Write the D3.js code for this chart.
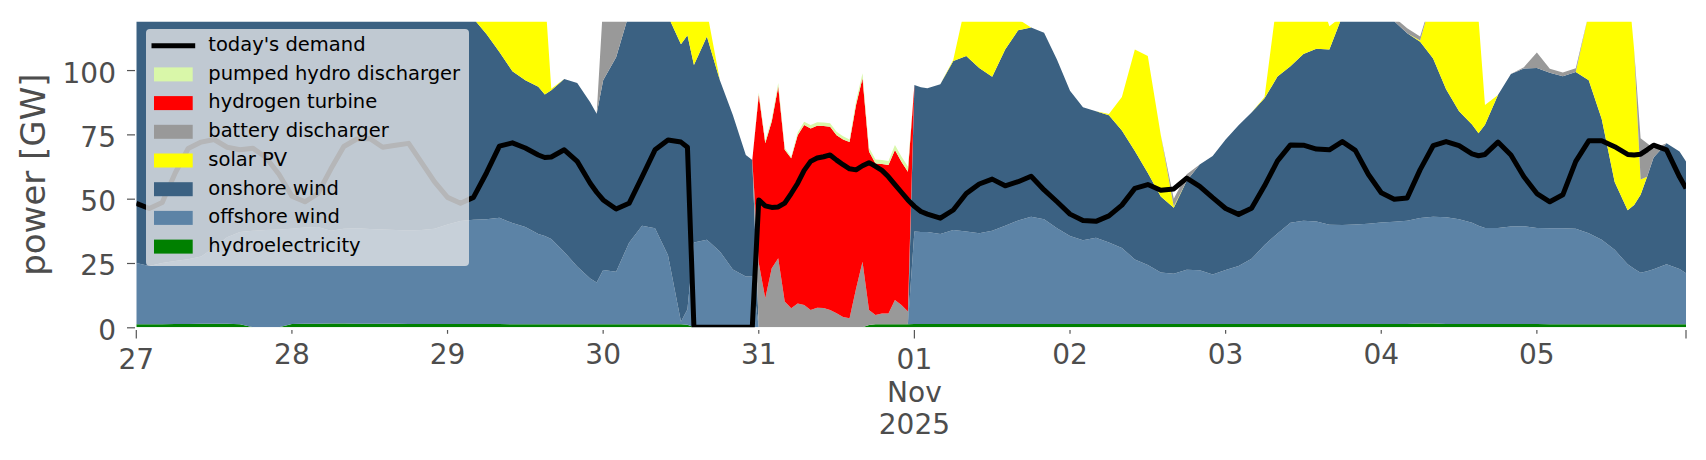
<!DOCTYPE html>
<html><head><meta charset="utf-8">
<script src="https://cdn.jsdelivr.net/npm/d3@7"></script>
<style>
body{margin:0;background:#fff}
svg{display:block}
text{font-family:"DejaVu Sans",sans-serif}
</style>
</head><body>
<svg id="chart" width="1706" height="460"></svg>
<script>
// ---------- DATA (hour offsets from 27 Oct 2025 00:00) ----------
const hours = [
 0,2,4,6,8,10,12,14,16,18,20,22,
 24,26,28,30,32,34,36,38,40,42,44,46,
 48,50,52,54,56,58,60,62,63,64,66,68,70,71,
 72,74,76,78,80,82,84,85,86,88,90,92,94,95,
 96,97,98,99,100,101,102,103,104,105,106,107,108,109,110,111,112,113,114,115,116,117,118,119,120,121,
 122,124,126,128,130,132,134,136,138,140,142,
 144,146,148,150,152,154,156,158,160,162,164,166,
 168,170,172,174,176,178,180,182,184,186,188,190,
 192,194,196,198,200,202,204,206,207,208,210,212,214,
 216,218,220,222,224,226,228,230,231,232,233,234,236,238,239];

const hydroelectricity = [
 1.2,1.2,1.2,1.3,1.3,1.4,1.4,1.4,1.2,0,0,0,
 1.3,1.4,1.4,1.5,1.5,1.4,1.4,1.4,1.4,1.3,1.3,1.3,
 1.3,1.3,1.3,1.3,1.3,1.2,1.2,1.2,1.2,1.2,1.2,1.2,1.2,1.2,
 1.2,1.2,1.2,1.2,1.2,1.2,1.2,1.0,0,0,0,0,0,0,
 0,0,0,0,0,0,0,0,0,0,0,0,0,0,0,0,0,0.9,1.2,1.2,1.2,1.2,1.2,1.2,1.3,1.3,
 1.3,1.3,1.3,1.3,1.3,1.3,1.3,1.3,1.3,1.3,1.3,
 1.3,1.3,1.3,1.3,1.3,1.3,1.3,1.3,1.3,1.3,1.3,1.3,
 1.3,1.3,1.3,1.3,1.3,1.3,1.3,1.3,1.3,1.3,1.3,1.3,
 1.3,1.3,1.3,1.5,1.5,1.3,1.3,1.3,1.3,1.3,1.3,1.3,1.3,
 1.3,1.2,1.2,1.2,1.2,1.2,1.2,1.2,1.2,1.2,1.2,1.2,1.2,1.2,1.2];

const offshoreWind = [
 23.8,22.6,23.8,24.5,25.2,26.1,29.6,33.6,35.8,37.5,37.8,38.0,
 37.0,37.4,37.6,36.0,36.8,37.1,36.8,36.6,36.4,36.3,36.5,37.0,
 38.7,40.0,40.5,40.7,41.3,39.3,37.8,35.1,34.3,33.1,28.1,22.4,17.8,16.2,
 21.1,20.4,31.7,38.3,37.3,26.8,1.0,6.0,33.0,34.0,29.5,22.5,19.7,19.7,
 0,0,0,0,0,0,0,0,0,0,0,0,0,0,0,0,0,0,0,0,0,0,0,0,35.9,35.7,
 35.7,35.0,36.5,35.9,35.3,36.2,38.2,40.2,41.7,40.7,37.2,
 34.2,32.5,33.5,31.7,29.5,25.1,22.9,20.0,19.5,21.1,20.9,19.2,
 21.0,22.5,25.3,30.7,35.2,39.3,40.1,39.8,38.6,38.5,38.7,39.0,
 39.4,39.7,40.1,41.0,41.5,41.5,40.7,39.3,38.2,37.3,37.3,37.9,38.0,
 37.3,37.3,37.3,37.1,35.4,32.8,28.9,23.3,21.6,20.0,20.6,21.4,23.3,21.5,19.8];

const onshoreWind = [
 105,106.2,103,100.2,100.5,101.5,100,97,93,90.5,89.2,88,
 89.7,90.2,91,93.5,91.7,90.5,89.8,90,89.2,88.4,87.2,84.7,
 82,79.7,78.2,72,64.4,59,57,57.2,55,57.9,67.2,71.4,68.5,65.6,
 73.7,83.4,89.1,86.5,88.5,93,107.8,106.5,69,79,66.5,60,47.3,45.3,
 0,0,0,0,0,0,0,0,0,0,0,0,0,0,0,0,0,0,0,0,0,0,0,0,57,56.3,
 55.9,58.2,65.7,68.3,64.2,59.9,68.5,74,73.5,72.5,65.5,
 56.5,51.7,49.2,49.4,45.7,42.1,35.8,29.5,25.7,34.6,41.1,46.1,
 50.7,54.7,56.9,57,61,60.9,64.8,67.2,68.1,81.2,84,84.7,
 82.3,78,72.9,68.5,61.5,49.7,42,38.2,35.9,40.1,51.7,59.3,61.3,
 62.2,60.5,59.1,60.9,59.4,47,26.4,21,24.7,30.3,36.7,43.4,47,45.6,43.5];

const solarPV = [
 0,0,0,0,2,8,10,7,1,0,0,0,
 0,0,0,0,2,8,10,7,1,0,0,0,
 0,0,0,12,25,35,42,45,40,0.5,0,0,0,0,
 0,0,0,4,12,18,20,15,25,10,0,0,0,0,
 0,0,0,0,0,0,0,0,0,0,0,0,0,0,0,0,0,0,0,0,0,0,0,0,0,0,
 0,0,0.5,21.3,30,35,25,4.3,0,0,0,
 0,0,0,0.5,13,39.5,45.5,24,0.5,0,0,0,
 0,0,0,0.5,31,32,30,24,9,0,0,0,
 0,0,0,0.5,25,35,42,46,44.6,7.7,0,0,0,
 0,0,0,0,26,46,72,90,60.5,6,0,0,0,0,0];

const batteryDischarger = [
 0,0,0,0,0,0,0,0,0,0,0,0,
 0,0,0,0,0,0,0,0,0,0,0,0,
 0,0,0,0,0,0,0,0,0,0,0,0,0,0,
 30,25,10,0,0,0,0,0,0,0,0,0,0,0,
 25,11.3,23,26.8,10,7.4,9.3,8.7,6.7,7.6,7.5,6.7,5.5,4,3.5,15,25.5,5.8,3.6,4.2,4.2,9.4,7.5,4.9,0,0,
 0,0,0,0,0,0,0,0,0,0,0,
 0,0,0,0,0,0,0,0,3,2.5,0,0,
 0,0,0,0,0,0,0,0,0,0,0,0,
 0,1.5,2,1.5,0,0,0,0,0,0,0,0,0.5,
 6,1.5,1.5,1.5,0,0,0,0,0,16,13,3.5,0,0,0];

const hydrogenTurbine = [
 0,0,0,0,0,0,0,0,0,0,0,0,
 0,0,0,0,0,0,0,0,0,0,0,0,
 0,0,0,0,0,0,0,0,0,0,0,0,0,0,
 0,0,0,0,0,0,0,0,0,0,0,0,0,0,
 65.3,60.2,57,66.7,59,58.3,65.4,69.9,70.6,70.8,70.8,71.3,69.2,69,68.5,71.4,71.3,61.6,58.9,58.1,57.7,58.3,55.7,54.4,0,0,
 0,0,0,0,0,0,0,0,0,0,0,
 0,0,0,0,0,0,0,0,0,0,0,0,
 0,0,0,0,0,0,0,0,0,0,0,0,
 0,0,0,0,0,0,0,0,0,0,0,0,0,
 0,0,0,0,0,0,0,0,0,0,0,0,0,0,0];

const pumpedHydroDischarger = [
 0,0,0,0,0,0,0,0,0,0,0,0,
 0,0,0,0,0,0,0,0,0,0,0,0,
 0,0,0,0,0,0,0,0,0,0,0,0,0,0,
 0,0,0,0,0,0,0,0,0,0,0,0,0,0,
 1,1,1,1.5,0.8,0.5,1,1.3,1.3,1.3,1.3,1.3,1.3,1.3,1,1.5,2,1.5,1.5,1.5,1.5,2,2,2,0,0,
 0,0,0,0,0,0,0,0,0,0,0,
 0,0,0,0,0,0,0,0,0,0,0,0,
 0,0,0,0,0,0,0,0,0,0,0,0,
 0,0,0,0,0,0,0,0,0,0,0,0,0,
 0,0,0,0,0,0,0,0,0,0,0,0,0,0,0];

const todaysDemand = [
 48.2,46.2,48.5,60,69.5,72,73,70,69,69.6,66,59.5,
 51,48.8,52,61.5,70.3,73.2,73.4,70,70.8,71.5,64,56.5,
 50.5,48.2,50.5,60,70.4,71.7,69.7,67,66,66.2,69,64.5,56,52.5,
 49.5,46,48.2,58.5,69,72.8,72,70,0,0,0,0,0,0,
 49.5,47.2,46.6,46.8,48.3,52,56,61,64.5,65.8,66.3,67,65,63.2,61.6,61.2,62.8,64,62.6,61,58.5,55.5,52.5,49.5,47,45,
 44,42.4,45.6,52,55.7,57.6,55,56.6,58.7,53.4,48.8,
 44,41.5,41.2,43.3,47.5,54,55.5,53.3,53.8,58,54.8,50.4,
 46.2,43.9,46.3,55,64.7,70.9,70.8,69.3,69,72.2,68.8,59.5,
 52.3,49.8,50.3,61.3,70.6,72.2,70.6,67.4,66.7,67.2,72,67,58.5,
 52,48.8,51.5,64.5,72.5,72.5,70.2,67.2,67,67.3,69,70.8,69,58.5,54];

// series bottom -> top
const seriesKeys   = ["hydroelectricity","offshore wind","onshore wind","solar PV","battery discharger","hydrogen turbine","pumped hydro discharger"];
const seriesValues = [hydroelectricity, offshoreWind, onshoreWind, solarPV, batteryDischarger, hydrogenTurbine, pumpedHydroDischarger];
const seriesColors = ["#008000","#5c83a6","#3b6182","#ffff00","#999999","#ff0000","#d9f7a9"];

const legendLabels = ["today's demand","pumped hydro discharger","hydrogen turbine","battery discharger","solar PV","onshore wind","offshore wind","hydroelectricity"];
const yTickValues = [0,25,50,75,100];
const xTickDayLabels = ["27","28","29","30","31","01","02","03","04","05"];
const monthLabel = ["Nov","2025"];
const yLabel = "power [GW]";

// ---------- LAYOUT ----------
const start = Date.UTC(2025,9,27,0,0);
const HOUR = 3600e3;
const times = hours.map(h => new Date(start + h*HOUR));
const plot = {left:136.3, right:1686, top:21.7, bottom:327.3};

const x = d3.scaleUtc().domain([times[0], times[times.length-1]]).range([plot.left, plot.right]);
const y = d3.scaleLinear().domain([0,118.8]).range([plot.bottom, plot.top]);

const svg = d3.select("#chart");
svg.append("defs").append("clipPath").attr("id","clip")
  .append("rect").attr("x",plot.left).attr("y",plot.top)
  .attr("width",plot.right-plot.left).attr("height",plot.bottom-plot.top);

const rows = times.map((t,i) => {
  const r = {t};
  seriesKeys.forEach((k,j) => r[k] = seriesValues[j][i]);
  return r;
});
const stacked = d3.stack().keys(seriesKeys)(rows);

const area = d3.area()
  .x(d => x(d.data.t))
  .y0(d => y(d[0]))
  .y1(d => y(d[1]));

const g = svg.append("g").attr("clip-path","url(#clip)");
g.selectAll("path.area").data(stacked).join("path")
  .attr("class","area")
  .attr("d", area)
  .attr("fill", (d,i) => seriesColors[i]);

const line = d3.line().x((d,i) => x(times[i])).y(d => y(d));
g.append("path").datum(todaysDemand)
  .attr("d", line).attr("fill","none")
  .attr("stroke","#000").attr("stroke-width",5)
  .attr("stroke-linejoin","round");

// ---------- AXES ----------
const tickColor = "#555555", labelColor = "#4d4d4d";
const yAxis = svg.append("g").attr("transform",`translate(${plot.left-1.3},0)`)
  .call(d3.axisLeft(y).tickValues(yTickValues).tickSize(8).tickPadding(11).tickFormat(d3.format("d")));
yAxis.select(".domain").remove();
yAxis.selectAll(".tick line").attr("stroke",tickColor).attr("stroke-width",1.2);
yAxis.selectAll(".tick text").attr("fill",labelColor).attr("font-size",28)
  .attr("font-family","DejaVu Sans").attr("dy",null).attr("y",12);

const dayTicks = d3.range(10).map(d => new Date(start + d*24*HOUR));
const majorIdx = [0,5];
const xg = svg.append("g");
dayTicks.forEach((t,i) => {
  const major = majorIdx.includes(i);
  const px = x(t);
  xg.append("line").attr("x1",px).attr("x2",px).attr("y1",330).attr("y2", major?338.5:333.8)
    .attr("stroke",tickColor).attr("stroke-width",1.2);
  const txt = xg.append("text").attr("x",px).attr("text-anchor","middle")
    .attr("fill",labelColor).attr("font-size",28);
  txt.append("tspan").attr("x",px).attr("y", major?368.5:363.7).text(xTickDayLabels[i]);
  if (i===5) {
    txt.append("tspan").attr("x",px).attr("y",401.5).text(monthLabel[0]);
    txt.append("tspan").attr("x",px).attr("y",434).text(monthLabel[1]);
  }
});
xg.append("line").attr("x1",x(times[times.length-1])).attr("x2",x(times[times.length-1]))
  .attr("y1",330).attr("y2",338.5).attr("stroke",tickColor).attr("stroke-width",1.2);

svg.append("text").attr("transform","translate(44.5,174.6) rotate(-90)")
  .attr("text-anchor","middle").attr("font-size",34).attr("fill",labelColor).text(yLabel);

// ---------- LEGEND ----------
const lg = svg.append("g");
lg.append("rect").attr("x",146).attr("y",29).attr("width",323).attr("height",237).attr("rx",4)
  .attr("fill","#e2e4e6").attr("fill-opacity",0.8);
const legendColors = ["#000"].concat(seriesColors.slice().reverse());
legendLabels.forEach((lab,i) => {
  const cy = 45.7 + i*28.7;
  if (i===0) {
    lg.append("line").attr("x1",154).attr("x2",192.7).attr("y1",cy).attr("y2",cy)
      .attr("stroke","#000").attr("stroke-width",5).attr("stroke-linecap","square");
  } else {
    lg.append("rect").attr("x",154).attr("y",cy-7).attr("width",38.7).attr("height",14)
      .attr("fill",legendColors[i]);
  }
  lg.append("text").attr("x",208.3).attr("y",cy+5.3).attr("font-size",19.5)
    .attr("fill","#000").text(lab);
});
</script>
</body></html>
